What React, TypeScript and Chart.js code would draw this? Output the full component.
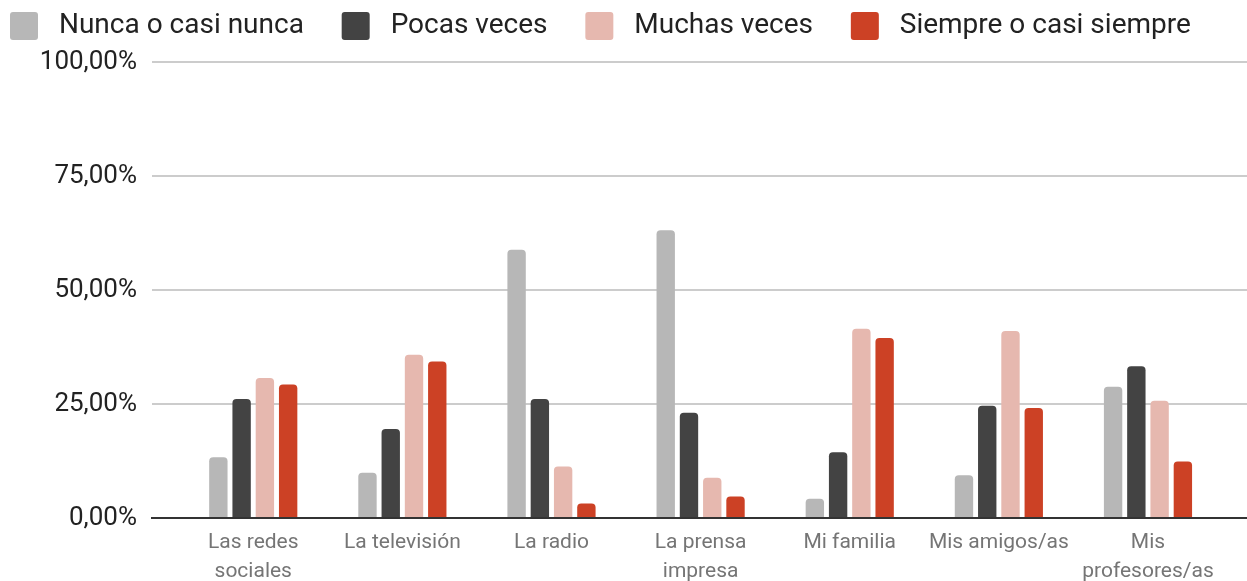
import React, { useEffect, useRef } from 'react';
import { Chart, registerables } from 'chart.js';

Chart.register(...registerables);

const categories: (string | string[])[] = [
  ['Las redes', 'sociales'],
  'La televisión',
  'La radio',
  ['La prensa', 'impresa'],
  'Mi familia',
  'Mis amigos/as',
  ['Mis', 'profesores/as'],
];
const seriesNames = ['Nunca o casi nunca', 'Pocas veces', 'Muchas veces', 'Siempre o casi siempre'];
const nunca = [13.3, 9.9, 58.8, 63.1, 4.2, 9.4, 28.8];
const pocas = [26.1, 19.5, 26.1, 23.1, 14.4, 24.6, 33.3];
const muchas = [30.7, 35.8, 11.3, 8.8, 41.5, 41.0, 25.7];
const siempre = [29.3, 34.3, 3.2, 4.7, 39.5, 24.1, 12.4];
const yTickValues = [0, 25, 50, 75, 100];
const colors = ['#b7b7b7', '#434343', '#e6b8af', '#cc4125'];

const FONT = 'Roboto';

const legendHeightPlugin = {
  id: 'legendHeight',
  beforeLayout(chart: any) {
    const lg = chart.legend;
    if (lg && !lg.__patched) {
      const orig = lg.fit;
      lg.fit = function (this: any) {
        orig.call(this);
        this.height = 60;
      };
      lg.__patched = true;
    }
  },
};

export default function App() {
  const ref = useRef<HTMLCanvasElement | null>(null);

  useEffect(() => {
    document.body.style.margin = '0';
    const canvas = ref.current;
    if (!canvas) return;
    const series = [nunca, pocas, muchas, siempre];
    const chart = new Chart(canvas, {
      type: 'bar',
      data: {
        datasets: series.map((vals, si) => ({
          label: seriesNames[si],
          data: vals.map((v, i) => ({ x: i, y: v })),
          backgroundColor: colors[si],
          borderWidth: 0,
          borderRadius: 4,
          borderSkipped: 'start',
          categoryPercentage: 0.624,
          barPercentage: 0.79,
        })),
      },
      options: {
        responsive: false,
        animation: false,
        layout: { padding: { left: 0, right: 0, top: 2, bottom: 0 } },
        plugins: {
          tooltip: { enabled: false },
          legend: {
            position: 'top',
            align: 'start',
            labels: {
              boxWidth: 28,
              boxHeight: 28,
              padding: 10,
              useBorderRadius: true,
              borderRadius: 3,
              color: '#222222',
              font: { family: FONT, size: 28 },
              generateLabels: (ch: any) => {
                const base = Chart.defaults.plugins.legend.labels.generateLabels(ch);
                return base.map((it: any) => ({ ...it, text: ' ' + it.text + '    ' }));
              },
            },
          },
        },
        scales: {
          x: {
            type: 'linear',
            min: -0.679,
            max: 6.664,
            offset: false,
            grid: { display: false, drawTicks: false },
            border: { display: true, color: '#333333', width: 2 },
            afterFit: (scale: any) => {
              scale.height = 63;
            },
            ticks: {
              stepSize: 1,
              includeBounds: false,
              autoSkip: false,
              maxRotation: 0,
              padding: 11,
              color: '#757575',
              font: { family: FONT, size: 21, lineHeight: 1.35 },
              callback: (v: any) => {
                const n = Number(v);
                return Number.isInteger(n) && n >= 0 && n < categories.length ? (categories[n] as any) : '';
              },
            },
          },
          y: {
            min: 0,
            max: 100,
            afterFit: (scale: any) => {
              scale.width = 152;
            },
            afterBuildTicks: (scale: any) => {
              scale.ticks = yTickValues.map((v) => ({ value: v }));
            },
            grid: {
              drawTicks: false,
              lineWidth: 2,
              color: (c: any) => (c.tick && c.tick.value === 0 ? '#333333' : '#cccccc'),
            },
            border: { display: false },
            ticks: {
              padding: 15,
              color: '#222222',
              font: { family: FONT, size: 26 },
              callback: (v: any) => Number(v).toFixed(2).replace('.', ',') + '%',
            },
          },
        },
      },
      plugins: [legendHeightPlugin],
    });
    return () => chart.destroy();
  }, []);

  return (
    <div style={{ width: 1247, height: 581 }}>
      <canvas ref={ref} width={1247} height={581} style={{ display: 'block' }} />
    </div>
  );
}
